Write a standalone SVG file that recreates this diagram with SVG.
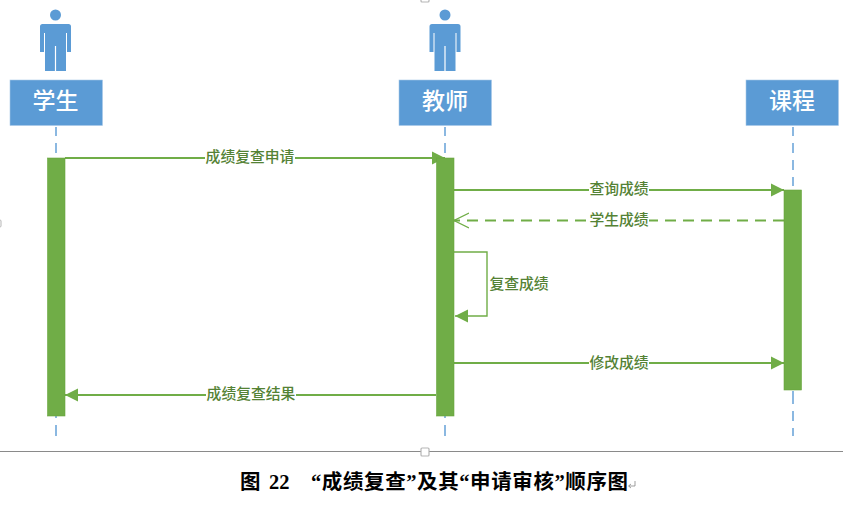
<svg xmlns="http://www.w3.org/2000/svg" width="843" height="509" viewBox="0 0 843 509">
<style>
.box{fill:#5b9bd5;stroke:#a9c9e8;stroke-width:.6}
.name{font:500 23px "Noto Sans CJK SC","Liberation Sans",sans-serif;fill:#fff;text-anchor:middle}
.life{stroke:#5b9bd5;stroke-width:1.4;fill:none}
.act{fill:#70ad47;stroke:#6aa53f;stroke-width:.6}
.msg{stroke:#70ad47;stroke-width:2;fill:none}
.lbl{font:500 14.800px "Noto Sans CJK SC","Liberation Sans",sans-serif;fill:#548235;text-anchor:middle}
.bg{fill:#fff}
.cap{font:bold 20.500px "Liberation Serif","Noto Sans CJK SC",serif;fill:#000}
</style>
<defs>
<marker id="tri" markerUnits="userSpaceOnUse" markerWidth="14" markerHeight="14" refX="13" refY="7" orient="auto"><path d="M0,0.5L13,7L0,13.500Z" fill="#70ad47"/></marker>
<marker id="open" markerUnits="userSpaceOnUse" markerWidth="16" markerHeight="18" refX="15" refY="8" orient="auto"><path d="M0,0.500L15,8L0,15.500" fill="none" stroke="#70ad47" stroke-width="1.2"/></marker>
<g id="person"><circle cx="0" cy="15" r="5.500" fill="#5b9bd5"/><path d="M-13,24H13Q15.500,24 15.500,26.500V52H11.500V33H10.500V71H0.600V46H-0.600V71H-10.500V33H-11.500V52H-15.500V26.500Q-15.500,24 -13,24Z" fill="#5b9bd5"/></g>
</defs>
<rect width="843" height="509" fill="#fff"/>
<g id="connectors">
<path class="life" d="M56,127V136M56,143V153M56,416V418M56,425V436"/>
<path class="life" d="M445,127V136M445,143V153M445,416V418M445,425V436"/>
<path class="life" d="M793,127V136M793,143V153M793,160V170M793,177V186M793,391V404M793,411V421M793,428V436"/>
<path class="msg" d="M65,158H445" marker-end="url(#tri)"/>
<path class="msg" d="M454,190H784" marker-end="url(#tri)"/>
<path class="msg" d="M784,220.500H454" stroke-dasharray="11 7" marker-end="url(#open)"/>
<path class="msg" style="stroke-width:1.400" d="M454,252H487V316H455" marker-end="url(#tri)"/>
<path class="msg" d="M454,363H784" marker-end="url(#tri)"/>
<path class="msg" d="M436,395H65" marker-end="url(#tri)"/>
</g>
<g id="student"><use href="#person" x="55.500"/><rect class="box" x="10" y="80" width="92.500" height="45.500"/><text class="name" x="55.500" y="109">学生</text></g>
<g id="teacher"><use href="#person" x="445"/><rect class="box" x="399" y="80" width="92.500" height="45.500"/><text class="name" x="445" y="109">教师</text></g>
<g id="course"><rect class="box" x="746" y="80" width="92.500" height="45.500"/><text class="name" x="792" y="109">课程</text></g>
<g id="activations">
<rect class="act" x="47.500" y="158" width="17.500" height="258"/>
<rect class="act" x="436.500" y="158" width="17.500" height="258"/>
<rect class="act" x="784" y="190" width="17.500" height="200"/>
</g>
<g id="labels">
<rect class="bg" x="205" y="150" width="90" height="16"/><text class="lbl" x="250" y="162">成绩复查申请</text>
<rect class="bg" x="589" y="182" width="60" height="16"/><text class="lbl" x="619" y="194">查询成绩</text>
<rect class="bg" x="589" y="212" width="60" height="16"/><text class="lbl" x="619" y="225">学生成绩</text>
<text class="lbl" x="519" y="289">复查成绩</text>
<rect class="bg" x="589" y="355" width="60" height="16"/><text class="lbl" x="619" y="368">修改成绩</text>
<rect class="bg" x="206" y="387" width="90" height="16"/><text class="lbl" x="251" y="399">成绩复查结果</text>
</g>
<g id="page">
<path d="M0,451.500H843" stroke="#8a8a8a" stroke-width="1"/>
<rect x="421" y="448" width="8" height="8" rx="1" fill="#fff" stroke="#b5b5b5" stroke-width="1.200"/>
<rect x="421" y="-5" width="8" height="7" rx="1" fill="#fff" stroke="#b5b5b5" stroke-width="1.200"/>
<rect x="-4" y="220" width="5" height="7" rx="1" fill="#fff" stroke="#b5b5b5" stroke-width="1"/>
<text class="cap" x="240" y="489">图</text>
<text class="cap" x="269" y="489">22</text>
<text class="cap" x="311" y="489" textLength="317" lengthAdjust="spacing">“成绩复查”及其“申请审核”顺序图</text>
<path d="M635,481V486H629M631,484L628.500,486L631,488" fill="none" stroke="#777" stroke-width=".7"/>
</g>
</svg>
